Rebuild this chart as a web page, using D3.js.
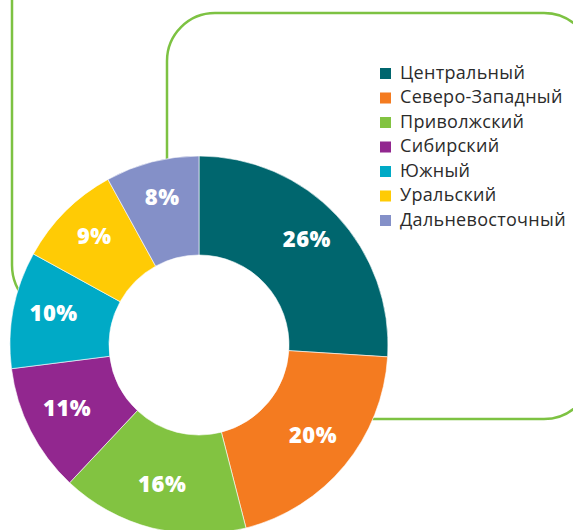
<!DOCTYPE html>
<html>
<head>
<meta charset="utf-8">
<script src="https://cdn.jsdelivr.net/npm/d3@7"></script>
<style>
  body { margin: 0; background: #fff; }
</style>
</head>
<body>
<div id="chart"></div>
<script>
// Data
const regions = ["Центральный", "Северо-Западный", "Приволжский", "Сибирский", "Южный", "Уральский", "Дальневосточный"];
const shares = [26, 20, 16, 11, 10, 9, 8];
const colors = ["#00666e", "#f47b20", "#82c341", "#92278f", "#00aac6", "#ffcb05", "#8490c8"];

const width = 573, height = 530;
const cx = 199, cy = 345;
const outerR = 189, innerR = 90, labelR = 148;

const svg = d3.select("#chart")
    .append("svg")
    .attr("width", width)
    .attr("height", height);

// green frame lines in the background
const frame = "#7dc242";
svg.append("path")
    .attr("d", "M12,-10 V265 A50,50 0 0 0 62,315 H320")
    .attr("fill", "none")
    .attr("stroke", frame)
    .attr("stroke-width", 2.5);

svg.append("rect")
    .attr("x", 167).attr("y", 13)
    .attr("width", 425).attr("height", 406)
    .attr("rx", 48).attr("ry", 48)
    .attr("fill", "none")
    .attr("stroke", frame)
    .attr("stroke-width", 2.5);

const g = svg.append("g")
    .attr("transform", "translate(" + cx + "," + cy + ")");

// white disc hides the frame behind the donut
g.append("circle").attr("r", outerR).attr("fill", "#fff");

const pie = d3.pie().sort(null).value(d => d);
const arcs = pie(shares);

const arc = d3.arc().innerRadius(innerR).outerRadius(outerR);
const labelArc = d3.arc().innerRadius(labelR).outerRadius(labelR);

g.selectAll("path.slice")
    .data(arcs)
    .enter().append("path")
    .attr("class", "slice")
    .attr("d", arc)
    .attr("fill", (d, i) => colors[i])
    .attr("stroke", "#fff")
    .attr("stroke-width", 0.6);

g.selectAll("text.pct")
    .data(arcs)
    .enter().append("text")
    .attr("class", "pct")
    .attr("transform", d => "translate(" + labelArc.centroid(d) + ")")
    .attr("text-anchor", "middle")
    .attr("dy", "0.15em")
    .style("font-family", "'Open Sans', sans-serif")
    .style("font-weight", "800")
    .style("font-size", "22px")
    .style("letter-spacing", "0.5px")
    .style("fill", "#fff")
    .text(d => d.data + "%");

// Legend
const legend = svg.append("g")
    .attr("transform", "translate(380,68)");

const item = legend.selectAll("g")
    .data(regions)
    .enter().append("g")
    .attr("transform", (d, i) => "translate(0," + (i * 24.5) + ")");

item.append("rect")
    .attr("width", 11)
    .attr("height", 11)
    .attr("fill", (d, i) => colors[i]);

item.append("text")
    .attr("x", 20)
    .attr("y", 10.5)
    .style("font-family", "'Open Sans', sans-serif")
    .style("font-size", "18px")
    .style("letter-spacing", "0.3px")
    .style("fill", "#2b2b2b")
    .text(d => d);
</script>
</body>
</html>
